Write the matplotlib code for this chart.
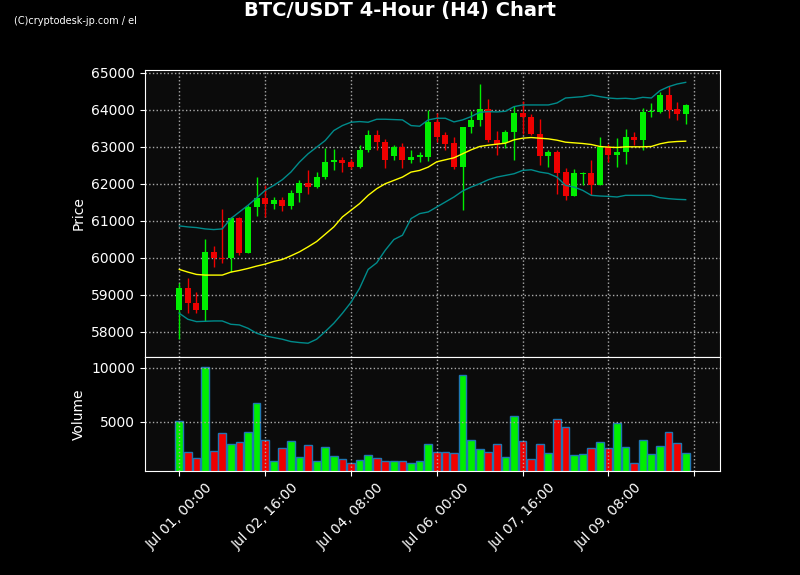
import numpy as np
import pandas as pd
import matplotlib
matplotlib.use("Agg")
import matplotlib.pyplot as plt

# --- DATA ---
opens = [58600, 59175, 58770, 58600, 60155, 60000, 60000, 61070, 60135, 61370,
         61610, 61460, 61555, 61410, 61745, 62015, 61915, 62185, 62580, 62635,
         62580, 62455, 62930, 63310, 63145, 62750, 63010, 62650, 62720, 62740,
         63665, 63310, 63100, 62455, 63530, 63735, 64035, 63190, 63100, 63400,
         63930, 63820, 63355, 62750, 62875, 62310, 61670, 62270, 62285, 61960,
         62995, 62785, 62860, 63255, 63200, 63940, 63940, 64415, 64035, 63900]
closes = [59175, 58770, 58600, 60155, 60000, 59975, 61070, 60120, 61370, 61610,
          61465, 61555, 61410, 61745, 62015, 61915, 62195, 62580, 62635, 62565,
          62455, 62930, 63310, 63145, 62650, 63010, 62650, 62740, 62770, 63665,
          63280, 63085, 62455, 63550, 63740, 64035, 63190, 63085, 63415, 63930,
          63800, 63355, 62750, 62875, 62290, 61670, 62285, 62290, 61960, 62995,
          62785, 62875, 63255, 63200, 63955, 63955, 64415, 64010, 63900, 64145]
highs = [59310, 59445, 59085, 60520, 60325, 61330, 61100, 61100, 61440, 62185,
         61960, 61645, 61645, 61845, 62095, 62385, 62320, 62975, 62950, 62725,
         62680, 63040, 63445, 63445, 63220, 63065, 63100, 62905, 62860, 64000,
         63920, 63415, 63265, 63550, 63980, 64700, 64300, 63420, 63460, 64115,
         64250, 63890, 63760, 62905, 62920, 62435, 62390, 62335, 62635, 63265,
         63085, 63250, 63490, 63415, 64055, 64190, 64475, 64655, 64205, 64160]
lows = [57800, 58520, 58500, 58300, 59760, 59870, 59625, 60090, 60120, 61135,
        61105, 61330, 61260, 61330, 61500, 61715, 61900, 62140, 62385, 62320,
        62390, 62435, 62860, 62920, 62435, 62635, 62435, 62560, 62590, 62615,
        63130, 62905, 62400, 61305, 63370, 63560, 63145, 62790, 62975, 62650,
        63355, 63310, 62500, 62455, 61735, 61555, 61670, 61960, 61710, 61960,
        62605, 62455, 62545, 63065, 62920, 63800, 63910, 63785, 63730, 63630]
volumes = [5093, 2222, 1667, 10092, 2315, 3982, 2963, 3148, 4074, 6759,
           3333, 1389, 2593, 3241, 1759, 2870, 1389, 2685, 1852, 1574,
           1204, 1481, 1944, 1667, 1389, 1358, 1358, 1204, 1389, 2963,
           2222, 2222, 2130, 9351, 3333, 2500, 2222, 2963, 1759, 5556,
           3241, 1574, 2963, 2130, 5278, 4537, 1944, 2037, 2593, 3148,
           2593, 4907, 2685, 1204, 3333, 2037, 2778, 4074, 3056, 2130]

# indicator lines, in reference screen units (zoom px), converted below
mid_px = [598, 606, 613, 615, 615, 615, 606, 601, 595, 588, 582, 574, 568, 557, 545,
          530, 514, 492, 470, 440, 420, 400, 375, 355, 340, 330, 320, 305, 300, 290,
          274, 268, 262, 250, 238, 228, 224, 221, 218, 208, 203, 201, 203, 205, 209,
          215, 217, 219, 222, 228, 230, 231, 229, 229, 229, 228, 220, 215, 213, 212]
upper_px = [467, 470, 472, 476, 478, 476, 445, 425, 405, 383, 360, 345, 328, 305, 275,
            250, 230, 210, 180, 165, 155, 153, 155, 146, 146, 147, 148, 165, 167, 148,
            143, 143, 154, 148, 138, 125, 123, 124, 122, 108, 103, 103, 103, 103, 97,
            82, 80, 78, 73, 78, 82, 84, 83, 85, 80, 82, 60, 48, 40, 35]
lower_px = [730, 748, 755, 754, 753, 753, 763, 765, 775, 790, 798, 803, 808, 815, 818,
            820, 808, 785, 760, 730, 697, 655, 598, 578, 540, 508, 495, 445, 430, 425,
            410, 395, 380, 362, 350, 340, 328, 320, 315, 310, 300, 298, 305, 309, 320,
            345, 350, 360, 375, 377, 378, 380, 375, 375, 375, 375, 382, 385, 387, 388]


def px_to_price(v):
    return 64000 - (np.array(v) - 118) * 1000 / 111.3


mid = px_to_price(mid_px)
upper = px_to_price(upper_px)
lower = px_to_price(lower_px)

times = pd.date_range("2024-07-01 00:00", periods=len(opens), freq="4h")
GREEN = "#00ee00"
RED = "#ee0000"

fig = plt.figure(figsize=(8, 5.75), dpi=100, facecolor="black")
ax = fig.add_axes([145 / 800, 1 - 357 / 575, 575 / 800, 287 / 575])
axv = fig.add_axes([145 / 800, 1 - 471 / 575, 575 / 800, 114 / 575], sharex=ax)

x = np.arange(len(opens))
up = np.array(closes) >= np.array(opens)
colors = np.where(up, GREEN, RED)

for i in x:
    ax.vlines(i, lows[i], highs[i], color=colors[i], linewidth=1, zorder=2)
    bottom = min(opens[i], closes[i])
    height = max(abs(closes[i] - opens[i]), 20)
    ax.bar(i, height, bottom=bottom, width=0.7, color=colors[i], zorder=3)

ax.plot(x, mid, color="#ffff00", linewidth=1, zorder=4)
ax.plot(x, upper, color="#008b8b", linewidth=1, zorder=4)
ax.plot(x, lower, color="#008b8b", linewidth=1, zorder=4)

axv.bar(x, volumes, width=0.9, color=colors, edgecolor="#1f77b4", linewidth=1)

for a in (ax, axv):
    a.set_facecolor("#0b0b0b")
    a.grid(True, color="#aaaaaa", linestyle=":", linewidth=1)
    a.tick_params(colors="white", labelsize=10)
    for s in a.spines.values():
        s.set_color("white")

ax.set_xlim(-4, 63)
ax.set_ylim(57320, 65080)
ax.set_yticks(range(58000, 65001, 1000))
ax.set_ylabel("Price", color="white", fontsize=10)
ax.tick_params(labelbottom=False)

axv.set_ylim(460, 11000)
axv.set_yticks([5000, 10000])
axv.set_ylabel("Volume", color="white", fontsize=10)
ticks = list(range(0, 61, 10))
axv.set_xticks(ticks)
labels = [times[t].strftime("%b %d, %H:%M") if t < len(times) else "" for t in ticks]
axv.set_xticklabels(labels, rotation=45)

fig.text(0.5, 0.981, "BTC/USDT 4-Hour (H4) Chart", color="white", fontsize=14,
         fontweight="bold", ha="center", va="center")
fig.text(0.018, 0.963, "(C)cryptodesk-jp.com / el", color="white", fontsize=7,
         ha="left", va="center")

fig.savefig("out.png", dpi=100, facecolor="black")
